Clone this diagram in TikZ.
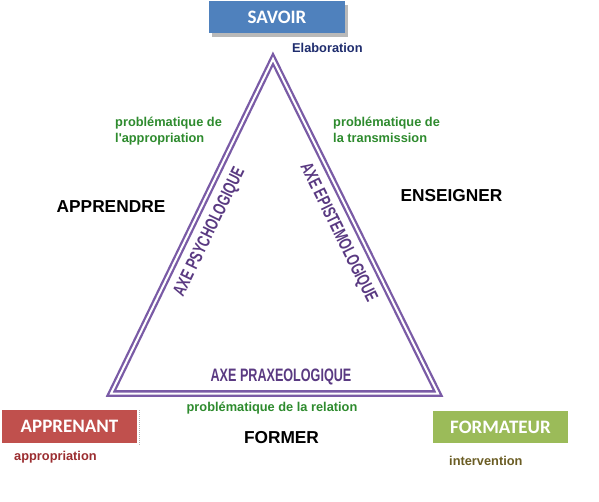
\documentclass[tikz,border=0pt]{standalone}
\usepackage{fontspec}
\setmainfont{Liberation Sans}
\newfontfamily\boxfont{Carlito}
\newfontfamily\axefont[FakeStretch=0.7]{Liberation Sans}
\definecolor{savoirblue}{HTML}{4F81BD}
\definecolor{redbox}{HTML}{C0504D}
\definecolor{greenbox}{HTML}{9BBB59}
\definecolor{pbgreen}{HTML}{2E8B2E}
\definecolor{darkred}{HTML}{9B2D30}
\definecolor{olive}{HTML}{6B5D24}
\definecolor{navy}{HTML}{1F2D6E}
\definecolor{tricol}{HTML}{7A5BA6}
\definecolor{axecol}{HTML}{5A3A82}
\begin{document}
\begin{tikzpicture}[x=1pt,y=-1pt,
  boxnode/.style={rectangle, minimum width=136pt, minimum height=32pt, inner sep=0pt,
    font=\boxfont\bfseries\fontsize{19}{19}\selectfont, text=white},
  lbl/.style={inner sep=0pt, font=\bfseries\fontsize{12.8}{16}\selectfont, align=left, anchor=west},
  verb/.style={inner sep=0pt, font=\bfseries\fontsize{17.3}{20}\selectfont, text=black},
  axe/.style={inner sep=0pt, text=axecol, font=\axefont\bfseries\fontsize{18}{18}\selectfont},
  tri/.style={draw=tricol, double=white, double distance=2pt, line width=2.3pt, line join=miter}
]
\useasboundingbox (0,0) rectangle (599,502);
\fill[white] (0,0) rectangle (599,502);

% boxes
\fill[gray!55] (212,5) rectangle (348,37);
\node[boxnode, fill=savoirblue] (savoir) at (277,17.5) {SAVOIR};
\node[boxnode, fill=redbox, minimum width=135pt, minimum height=33pt] (apprenant) at (69.5,426.5) {APPRENANT};
\draw[gray!60, densely dotted, line width=1pt] (139,410) -- (139,445);
\node[boxnode, fill=greenbox, minimum width=135pt] (formateur) at (500.5,427) {FORMATEUR};

% triangle
\coordinate (top) at (273,59);
\coordinate (bl) at (111,393.5);
\coordinate (br) at (438,393.5);
\draw[tri] (top) -- (bl) -- (br) -- cycle;

% axes
\node[axe, rotate=64] (psy) at (210,232) {AXE PSYCHOLOGIQUE};
\node[axe, rotate=-63.7] (epi) at (338,233) {AXE EPISTEMOLOGIQUE};
\node[axe] (praxeo) at (281,377) {AXE PRAXEOLOGIQUE};

% labels
\node[lbl, text=navy] (elab) at (292,48) {Elaboration};
\node[lbl, text=pbgreen] (pbapp) at (115,131) {problématique de\\l\textquotesingle appropriation};
\node[lbl, text=pbgreen] (pbtrans) at (333,129.5) {problématique de\\la transmission};
\node[lbl, text=pbgreen, anchor=center] (pbrel) at (272,408) {problématique de la relation};
\node[lbl, text=darkred] (approp) at (14,457.5) {appropriation};
\node[lbl, text=olive] (interv) at (449,461) {intervention};

% verbs
\node[verb] (apprendre) at (111,207) {APPRENDRE};
\node[verb] (enseigner) at (451.5,196) {ENSEIGNER};
\node[verb] (former) at (281.5,438) {FORMER};
\end{tikzpicture}
\end{document}
